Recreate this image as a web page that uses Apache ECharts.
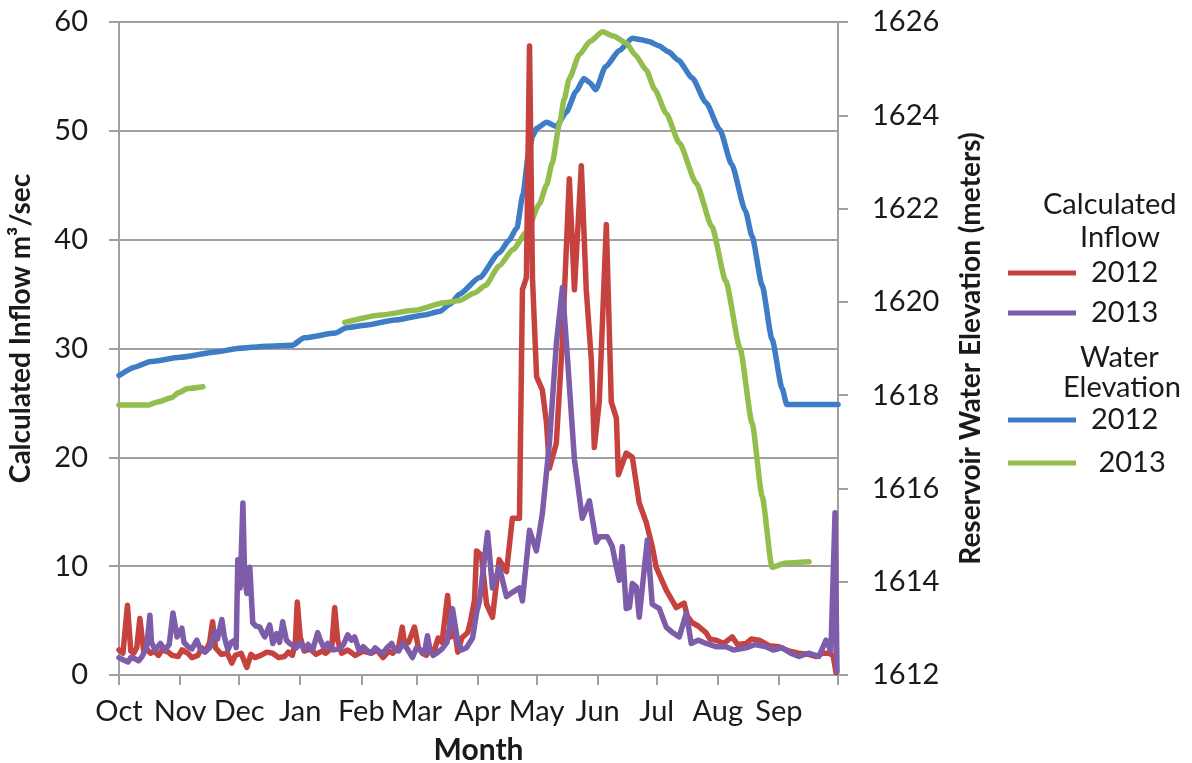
<!DOCTYPE html>
<html>
<head>
<meta charset="utf-8">
<script src="https://cdn.jsdelivr.net/npm/echarts@6.0.0/dist/echarts.min.js"></script>
<style>
html,body{margin:0;padding:0;background:#fff;}
#chart{width:1192px;height:763px;}
</style>
</head>
<body>
<div id="chart"></div>
<script>
// Month boundaries (day index from Oct 1) and labels
const monthStartDays = [0, 31, 61, 92, 123, 151, 182, 212, 243, 273, 304, 335, 365];
const monthLabels = ['Oct', 'Nov', 'Dec', 'Jan', 'Feb', 'Mar', 'Apr', 'May', 'Jun', 'Jul', 'Aug', 'Sep', ''];

// Calculated inflow 2012 (m3/sec) as [day, value]
const inflow2012 = [
  [0, 2.3], [2, 2.0], [4.3, 6.4], [6, 2.2], [7.5, 2.0], [9, 2.5], [10.6, 5.2], [12.5, 2.2], [14, 2.4], [16, 2.0], [18, 2.2], [20, 1.8],
  [22, 2.3], [25, 2.1], [27, 1.8], [30, 1.7], [32, 2.3], [35, 2.0], [37, 1.6], [40, 1.8], [42, 2.5], [44, 2.2], [46, 3.0], [47.5, 4.9], [49, 2.5], [52, 1.9], [55, 2.0], [57.3, 1.1],
  [59, 1.8], [62, 2.0], [64.9, 0.7], [67, 1.9], [69, 1.6], [72, 1.8], [75, 2.1], [78, 2.0], [81, 1.6], [84, 1.7], [86, 2.1], [88, 1.8], [89.5, 3.0], [90.5, 6.7],
  [92, 3.5], [94, 2.2], [97, 2.4], [100, 1.9], [103, 2.2], [105, 2.0], [108, 2.5], [109.5, 6.2], [111, 3.2], [113, 2.0], [116, 2.3], [120, 1.8], [124, 2.2], [128, 2.0],
  [131, 2.3], [134, 1.6], [137, 2.2], [139, 2.0], [142, 2.6], [143.8, 4.4], [145, 2.8], [147, 3.0], [150, 4.4], [152, 2.5], [154, 2.0], [156, 1.8], [158, 2.4], [160, 2.2],
  [162, 3.4], [164, 3.0], [166.8, 7.3], [168.5, 3.5], [170.5, 4.0], [172, 2.1], [174, 3.4], [177, 3.9], [178.5, 5.0], [180.5, 6.9], [181.5, 11.4],
  [184, 11.0], [186.6, 6.5], [189.6, 5.3], [193, 10.6], [196.7, 9.5], [199.7, 14.4], [203.3, 14.4], [204.8, 35.4], [206.8, 36.5], [208.4, 57.8],
  [209.9, 36.5], [212, 27.4], [214.9, 26.2], [217, 23.2], [218.5, 19.0], [222, 21.3], [225, 30.4], [228.6, 45.6], [231.2, 35.4], [234.7, 46.8],
  [237.2, 35.4], [239.8, 28.9], [241.3, 20.9], [243.8, 25.1], [247.4, 41.4], [249.9, 25.1], [252.5, 23.6], [253.5, 18.4], [257.5, 20.4], [260.6, 20.0],
  [264.1, 15.8], [267.7, 14.0], [270.7, 11.8], [272.7, 9.9], [277.8, 7.8], [282.9, 6.2], [286.9, 6.6], [288.5, 5.4], [291, 4.8], [294, 4.5], [298, 3.9], [300, 3.3], [303.2, 3.2],
  [307, 2.9], [311.3, 3.5], [314, 2.8], [318.4, 2.9], [321, 3.3], [325, 3.2], [330, 2.7], [335, 2.6], [340, 2.2], [345, 2.0], [350, 1.9], [354, 1.7], [357, 2.0], [360.4, 2.0], [362.5, 1.8], [364, 0.2]
];

// Calculated inflow 2013 (m3/sec) as [day, value]
const inflow2013 = [
  [0, 1.6], [2, 1.4], [4.6, 1.2], [6, 1.6], [8, 1.5], [10, 1.3], [11.7, 1.7], [14, 2.5], [15.7, 5.5], [16.5, 3.0], [18.3, 2.3], [21, 2.9], [23.3, 2.3], [25.5, 2.8], [27.4, 5.7],
  [29.5, 3.5], [31.9, 4.3], [33, 3.0], [35, 2.6], [37, 2.4], [39.5, 3.2], [41, 2.5], [43.6, 2.1], [46, 2.5], [48.7, 4.0], [50, 3.3], [52.2, 5.1], [53.5, 3.5], [55.3, 2.3], [57, 3.0], [58.8, 3.2],
  [59.5, 2.5], [60.3, 10.6], [61.5, 8.0], [62.9, 15.8], [63.8, 9.0], [64.9, 7.5], [66.4, 9.9], [67.9, 4.8], [69.5, 4.5], [71.5, 4.4], [73, 3.8], [74, 3.5], [76.5, 4.6],
  [78.1, 2.9], [80, 3.8], [81.5, 3.0], [83.1, 4.9], [85, 3.2], [86.7, 2.9], [90, 2.5], [92, 3.0], [94, 2.3], [96, 2.8], [98.3, 2.3], [100.9, 3.9], [102, 3.3], [104, 2.5], [106, 2.9], [108.5, 2.3],
  [112, 2.4], [114, 2.8], [116.1, 3.7], [118, 3.2], [119.6, 3.5], [122, 2.2], [124, 2.6], [125.7, 2.3], [128, 2.0], [130, 2.5], [132, 2.2], [134, 2.0], [136, 2.5], [138.4, 2.9], [140, 2.3], [142, 2.2], [144, 2.9], [146, 2.5],
  [149, 1.6], [151, 2.5], [153, 2.3], [155, 2.0], [156.6, 3.6], [158, 2.2], [159.5, 1.8], [161.2, 2.0], [164, 2.4], [166.5, 3.0], [169.3, 6.1], [172, 3.0], [173.9, 2.3],
  [176.4, 2.5], [179.5, 3.4], [181.5, 5.7], [183, 6.8], [187.1, 13.1], [189.6, 8.0], [193.1, 9.9], [196.7, 7.2], [199.7, 7.6], [203.3, 8.0],
  [204.8, 6.8], [208.4, 13.3], [211.9, 11.4], [214.9, 14.8], [218.5, 21.3], [222, 30.4], [225.1, 35.6], [227.6, 29.3], [231.2, 19.8], [235.2, 14.4],
  [238.8, 16.0], [242.3, 12.2], [244, 12.7], [247.9, 12.7], [250.4, 11.8], [252.5, 9.9], [254, 8.7], [255.5, 11.8], [257.5, 6.1], [259.1, 6.2],
  [260.6, 8.4], [262.6, 8.1], [264.1, 5.3], [265.1, 5.3], [268.2, 12.4], [270.7, 6.5], [274.3, 6.1], [277.8, 4.4], [281, 3.9], [284.4, 3.5], [288, 5.7],
  [290.5, 2.9], [294, 3.2], [298.1, 2.9], [303, 2.6], [308.2, 2.6], [312, 2.3], [318.4, 2.5], [323, 2.8], [328.5, 2.6], [332, 2.3], [336.6, 2.5], [341, 2.0], [345.2, 1.7], [350, 2.0], [355.3, 1.7], [358.9, 3.2], [361.4, 2.2],
  [363.5, 14.9], [364.5, 0.3]
];

// Reservoir water elevation 2012 (meters) as [day, value]
const elev2012 = [
  [0, 1618.42], [8, 1618.6], [16, 1618.72], [31, 1618.81], [50, 1618.93], [60, 1619.0], [75, 1619.05], [88, 1619.07], [94, 1619.23], [110, 1619.33],
  [115, 1619.44], [125, 1619.5], [140, 1619.61], [155, 1619.72], [163, 1619.8], [168, 1619.95], [173, 1620.17], [183, 1620.52], [193, 1621.05], [198, 1621.32], [202, 1621.59],
  [205, 1622.29], [208, 1623.2], [210, 1623.55], [212, 1623.72], [217, 1623.85], [222, 1623.76], [227, 1624.06], [232, 1624.51], [236, 1624.79], [239, 1624.7], [242, 1624.55], [247, 1625.04],
  [254, 1625.39], [260.6, 1625.65], [265, 1625.62], [269, 1625.58], [274, 1625.49], [279, 1625.36], [284, 1625.18], [291, 1624.8], [298, 1624.27], [305, 1623.69], [311, 1622.95], [318, 1621.95], [321.4, 1621.4],
  [326.5, 1620.35], [331.5, 1619.2], [336.6, 1618.15], [339, 1617.8], [365, 1617.8]
];

// Reservoir water elevation 2013 (meters) as [day, value]; '-' marks the gap in the record
const elev2013 = [
  [0, 1617.79], [15, 1617.79], [20, 1617.86], [27, 1617.95], [30, 1618.05], [35, 1618.14], [42.6, 1618.18], [78, '-'],
  [114.6, 1619.56], [133, 1619.72], [150, 1619.82], [165, 1619.98], [173, 1620.03], [180.5, 1620.19], [186, 1620.35], [193, 1620.77], [200, 1621.12], [207, 1621.5], [213.4, 1622.1],
  [217, 1622.5], [220, 1622.99], [223.6, 1623.81], [226, 1624.35], [228.6, 1624.79], [233.7, 1625.3], [239, 1625.58], [245.4, 1625.79], [251, 1625.7], [257.5, 1625.55], [262, 1625.3], [267.7, 1624.97], [272, 1624.55], [277.8, 1624.04], [284.4, 1623.41], [293, 1622.55],
  [301, 1621.61], [308, 1620.45], [315.3, 1619.0], [321.4, 1617.4], [326.5, 1615.83], [331.5, 1614.31], [338.6, 1614.4], [350.3, 1614.43]
];

const FONT = 'Lato';
const TXT = '#1a1a1a';
const GRID = '#a0a0a0';

const chart = echarts.init(document.getElementById('chart'), null, {renderer: 'canvas'});

function lineSeries(name, data, color, yIndex, smooth) {
  return {
    name: name, type: 'line', data: data, yAxisIndex: yIndex,
    showSymbol: false, symbol: 'none', smooth: smooth, smoothMonotone: 'x', connectNulls: false,
    lineStyle: {color: color, width: 5.5, join: 'round', cap: 'round'},
    itemStyle: {color: color},
    emphasis: {disabled: true}, silent: true
  };
}

const option = {
  backgroundColor: '#ffffff',
  animation: false,
  grid: {left: 119, right: 354, top: 22, bottom: 88, containLabel: false, outerBoundsMode: 'none'},
  legend: [
    {
      data: ['Inflow 2012', 'Inflow 2013'], orient: 'vertical', left: 1003, top: 253,
      icon: 'rect', itemWidth: 68, itemHeight: 5, itemGap: 10,
      formatter: n => n.split(' ')[1],
      textStyle: {fontFamily: FONT, fontSize: 29, color: TXT, lineHeight: 30, padding: [0, 0, 0, 10]},
      selectedMode: false
    },
    {
      data: ['Elevation 2012', 'Elevation 2013'], orient: 'vertical', left: 1003, top: 400,
      icon: 'rect', itemWidth: 68, itemHeight: 5, itemGap: 13,
      formatter: n => (n === 'Elevation 2013' ? ' ' : '') + n.split(' ')[1],
      textStyle: {fontFamily: FONT, fontSize: 29, color: TXT, lineHeight: 30, padding: [0, 0, 0, 10]},
      selectedMode: false
    }
  ],
  graphic: [
    {type: 'text', left: 1043, top: 190, style: {text: 'Calculated', font: '29px ' + FONT, fill: TXT}},
    {type: 'text', left: 1080, top: 223, style: {text: 'Inflow', font: '29px ' + FONT, fill: TXT}},
    {type: 'text', left: 1080, top: 343, style: {text: 'Water', font: '29px ' + FONT, fill: TXT}},
    {type: 'text', left: 1063, top: 373, style: {text: 'Elevation', font: '29px ' + FONT, fill: TXT}}
  ],
  xAxis: {
    type: 'value', min: 0, max: 365,
    name: 'Month', nameLocation: 'middle', nameGap: 60,
    nameTextStyle: {fontFamily: FONT, fontSize: 30, fontWeight: 'bold', color: TXT},
    axisLine: {show: true, onZero: false, lineStyle: {color: GRID, width: 2}},
    axisTick: {show: true, inside: false, length: 10, customValues: monthStartDays, lineStyle: {color: GRID, width: 2}},
    axisLabel: {
      show: true, margin: 22, customValues: monthStartDays.slice(0, 12),
      formatter: v => monthLabels[monthStartDays.indexOf(v)] || '',
      fontFamily: FONT, fontSize: 29, color: TXT
    },
    splitLine: {show: false}
  },
  yAxis: [
    {
      type: 'value', min: 0, max: 60, interval: 10, position: 'left',
      name: 'Calculated Inflow m³/sec', nameLocation: 'middle', nameGap: 84, nameRotate: 90,
      nameTextStyle: {fontFamily: FONT, fontSize: 28, fontWeight: 'bold', color: TXT, padding: [0, 0, 0, 40]},
      axisLine: {show: true, lineStyle: {color: GRID, width: 2}},
      axisTick: {show: true, inside: false, length: 10, lineStyle: {color: GRID, width: 2}},
      axisLabel: {margin: 31, fontFamily: FONT, fontSize: 29, color: TXT},
      splitLine: {show: true, lineStyle: {color: GRID, width: 2}}
    },
    {
      type: 'value', min: 1612, max: 1626, interval: 2, position: 'right',
      name: 'Reservoir Water Elevation (meters)', nameLocation: 'middle', nameGap: 119, nameRotate: 90,
      nameTextStyle: {fontFamily: FONT, fontSize: 28, fontWeight: 'bold', color: TXT},
      axisLine: {show: true, lineStyle: {color: GRID, width: 2}},
      axisTick: {show: true, inside: false, length: 10, lineStyle: {color: GRID, width: 2}},
      axisLabel: {margin: 34, fontFamily: FONT, fontSize: 29, color: TXT, formatter: v => String(v)},
      splitLine: {show: false}
    }
  ],
  series: [
    lineSeries('Elevation 2012', elev2012, '#3E7CC5', 1, 0.2),
    lineSeries('Elevation 2013', elev2013, '#93BE4E', 1, 0.2),
    lineSeries('Inflow 2012', inflow2012, '#C5423E', 0, false),
    lineSeries('Inflow 2013', inflow2013, '#7D5CAA', 0, false)
  ]
};

chart.setOption(option);
</script>
</body>
</html>
